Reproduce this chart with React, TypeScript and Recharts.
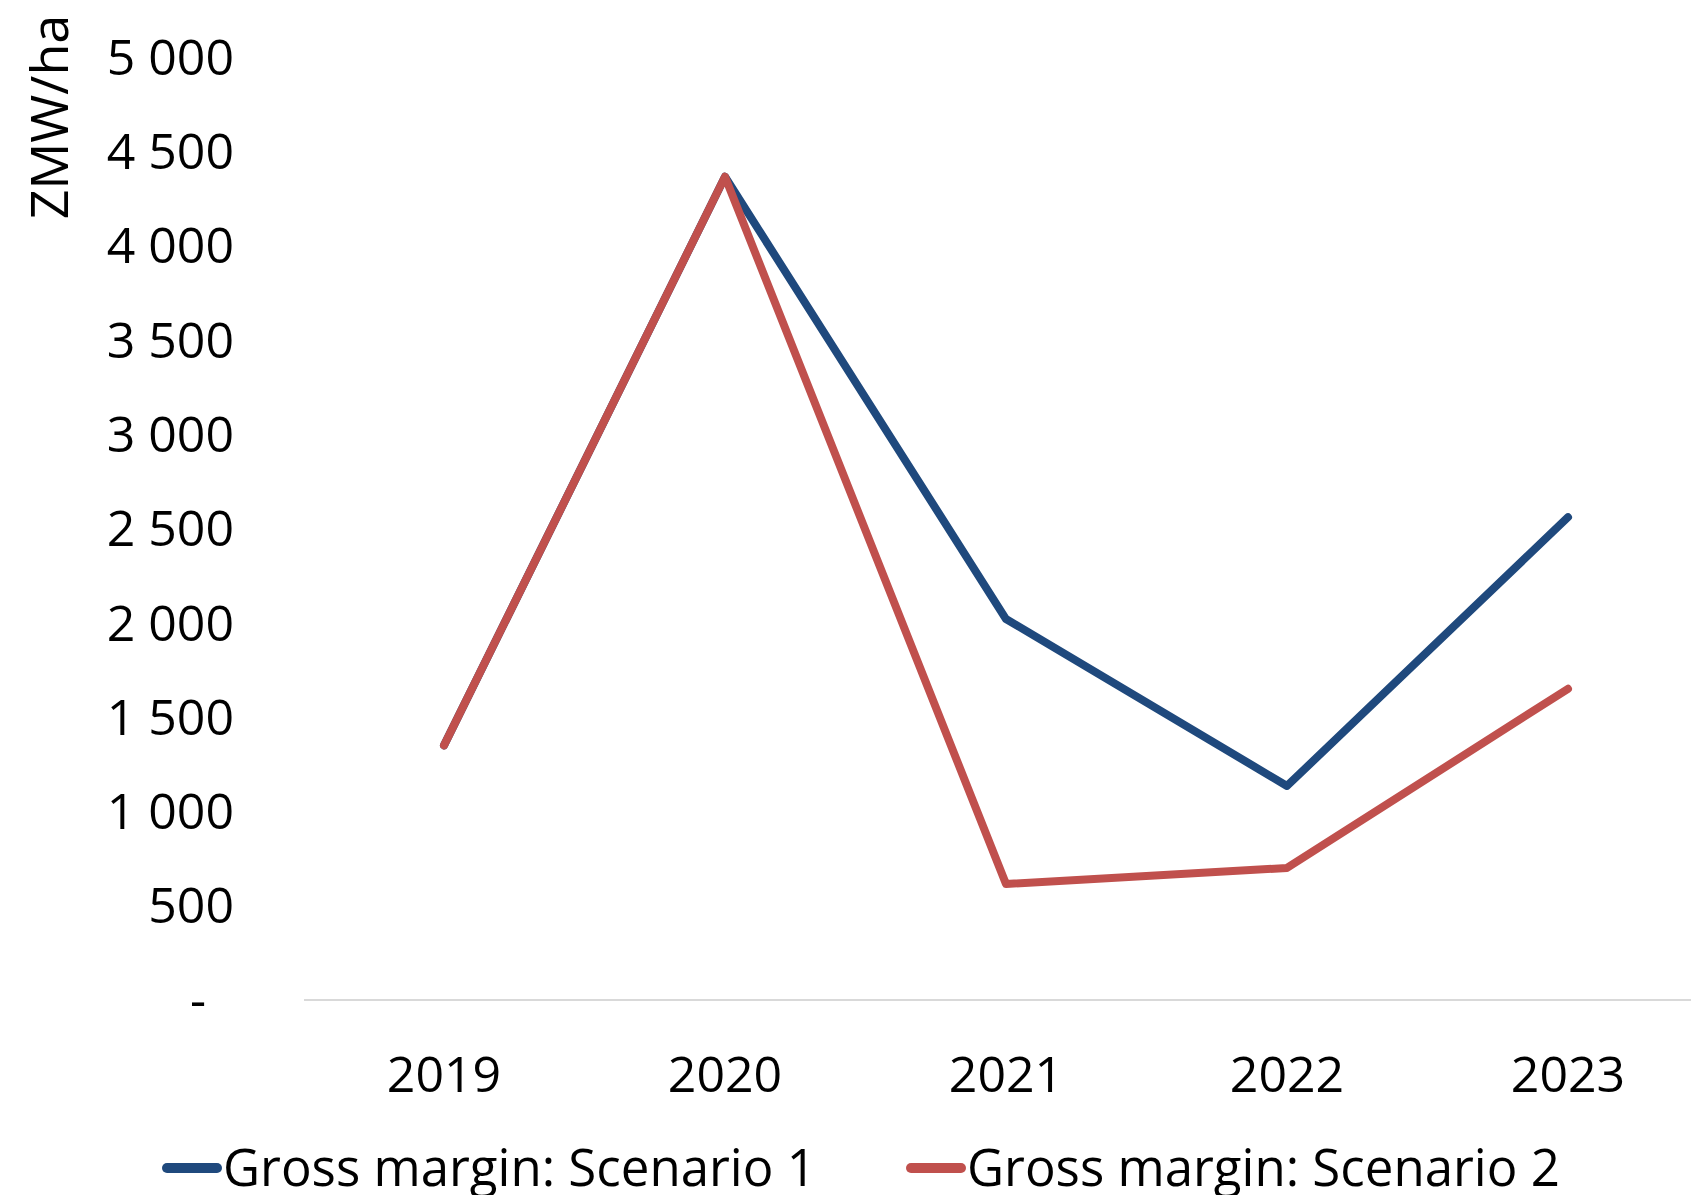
import React from 'react';
import { LineChart, Line, XAxis, YAxis, Legend } from 'recharts';

const years = ['2019', '2020', '2021', '2022', '2023'];
const scenario1 = [1350, 4365, 2020, 1135, 2560];
const scenario2 = [1350, 4365, 615, 700, 1650];
const yTicks = [0, 500, 1000, 1500, 2000, 2500, 3000, 3500, 4000, 4500, 5000];
const seriesNames = ['Gross margin: Scenario 1', 'Gross margin: Scenario 2'];
const seriesColors = ['#1F497D', '#C0504D'];
const yAxisTitle = 'ZMW/ha';

const data = years.map((y, i) => ({ year: y, s1: scenario1[i], s2: scenario2[i] }));

const FONT = '"Open Sans", sans-serif';

const fmt = (v: number) => {
  if (v === 0) return '-';
  const s = String(v);
  return s.replace(/\B(?=(\d{3})+(?!\d))/g, ' ');
};

const YTick = (props: any) => {
  const { x, y, payload } = props;
  const v = payload.value;
  const isZero = v === 0;
  return (
    <text
      x={isZero ? x - 98 : x - 70}
      y={y}
      dy="0.355em"
      textAnchor="end"
      fontFamily={FONT}
      fontSize={50}
      fill="#000"
    >
      {fmt(v)}
    </text>
  );
};

const XTick = (props: any) => {
  const { x, y, payload } = props;
  return (
    <text x={x} y={y + 92} textAnchor="middle" fontFamily={FONT} fontSize={50} fill="#000">
      {payload.value}
    </text>
  );
};

const LegendContent = () => {
  const starts = [162, 906];
  return (
    <svg width={1691} height={65} style={{ display: 'block' }}>
      {seriesNames.map((n, i) => (
        <g key={n}>
          <line
            x1={starts[i] + 5}
            x2={starts[i] + 55}
            y1={38}
            y2={38}
            stroke={seriesColors[i]}
            strokeWidth={10}
            strokeLinecap="round"
          />
          <text x={starts[i] + 61} y={56} fontFamily={FONT} fontSize={51} fill="#000">
            {n}
          </text>
        </g>
      ))}
    </svg>
  );
};

const YTitle = () => (
  <text
    x={68}
    y={117}
    transform="rotate(-90, 68, 117)"
    textAnchor="middle"
    fontFamily={FONT}
    fontSize={52}
    fill="#000"
  >
    {yAxisTitle}
  </text>
);

export default function App() {
  return (
    <div
      style={{
        position: 'absolute',
        left: 0,
        top: 0,
        width: 1691,
        height: 1195,
        overflow: 'hidden',
        background: '#fff',
      }}
    >
      <LineChart
        width={1720}
        height={1195}
        data={data}
        margin={{ top: 57, right: 12, left: 0, bottom: 0 }}
      >
        <XAxis
          dataKey="year"
          height={130}
          padding={{ left: 140, right: 140 }}
          tickLine={false}
          tickSize={0}
          tickMargin={0}
          axisLine={{ stroke: '#D9D9D9', strokeWidth: 2 }}
          tick={<XTick />}
          interval={0}
        />
        <YAxis
          width={304}
          domain={[0, 5000]}
          ticks={yTicks}
          interval={0}
          axisLine={false}
          tickLine={false}
          tickSize={0}
          tickMargin={0}
          tick={<YTick />}
          label={{ content: <YTitle /> }}
        />
        <Legend content={<LegendContent />} verticalAlign="bottom" height={65} />
        <Line
          dataKey="s1"
          name={seriesNames[0]}
          stroke={seriesColors[0]}
          strokeWidth={8}
          strokeLinejoin="round"
          strokeLinecap="round"
          dot={false}
          activeDot={false}
          isAnimationActive={false}
        />
        <Line
          dataKey="s2"
          name={seriesNames[1]}
          stroke={seriesColors[1]}
          strokeWidth={8}
          strokeLinejoin="round"
          strokeLinecap="round"
          dot={false}
          activeDot={false}
          isAnimationActive={false}
        />
      </LineChart>
    </div>
  );
}
